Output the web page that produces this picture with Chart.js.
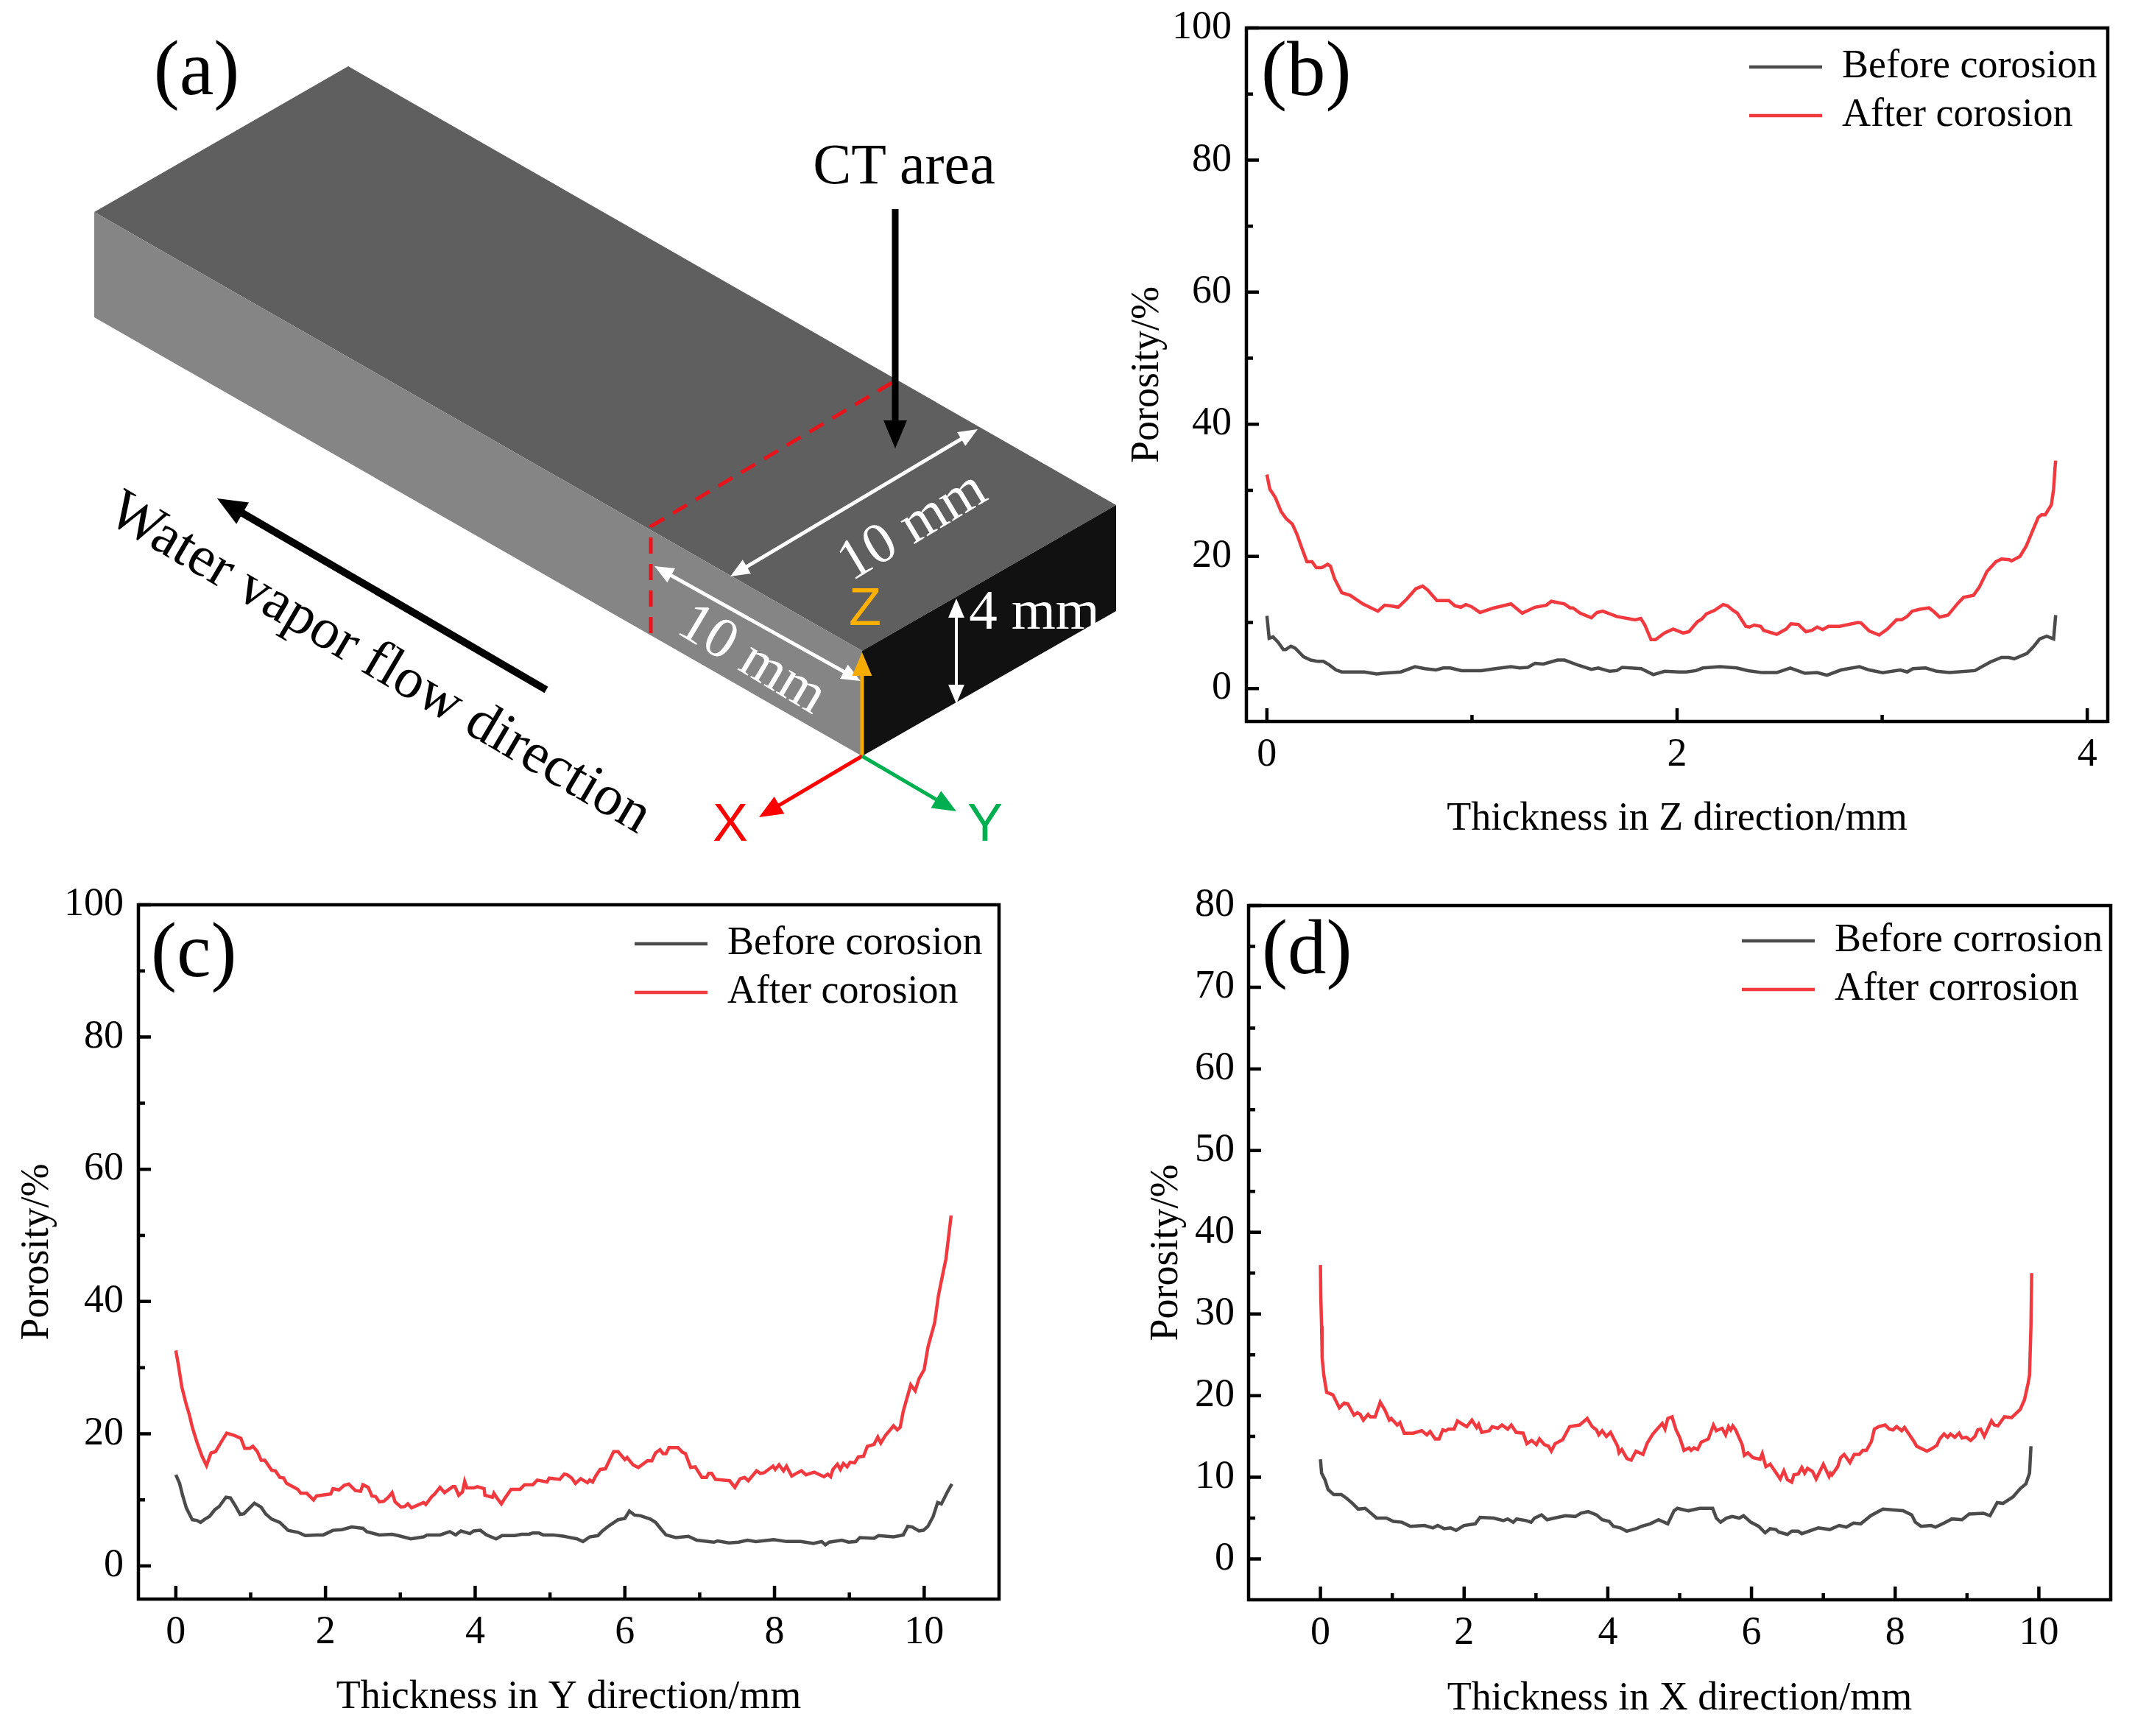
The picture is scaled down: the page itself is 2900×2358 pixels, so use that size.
<!DOCTYPE html>
<html>
<head>
<meta charset="utf-8">
<style>
html, body { margin: 0; padding: 0; background: #fff; width: 2900px; height: 2358px; overflow: hidden; }
canvas, svg { position: absolute; }
</style>
<script src="https://cdn.jsdelivr.net/npm/chart.js@4"></script>
</head>
<body>
<svg id="sketch" width="2900" height="1190" style="left:0;top:0"></svg>
<canvas id="chartZ" width="1374" height="1145" style="left:1526px;top:0"></canvas>
<canvas id="chartY" width="1382" height="1148" style="left:18px;top:1190px"></canvas>
<canvas id="chartX" width="1348" height="1150" style="left:1552px;top:1190px"></canvas>
<script>
// [thickness mm, porosity %]
const zBefore = [[0,11],[0.011,7.6],[0.03,7.8],[0.055,7],[0.08,5.9],[0.092,5.9],[0.117,6.4],[0.138,6.1],[0.179,4.8],[0.213,4.3],[0.248,4.1],[0.275,4.1],[0.303,3.6],[0.337,2.8],[0.365,2.5],[0.475,2.5],[0.536,2.2],[0.564,2.3],[0.653,2.5],[0.722,3.3],[0.77,3],[0.825,2.8],[0.86,3.1],[0.894,3.1],[0.949,2.7],[1.045,2.7],[1.114,3],[1.19,3.3],[1.231,3.1],[1.272,3.2],[1.307,3.8],[1.348,3.7],[1.417,4.3],[1.451,4.3],[1.52,3.5],[1.582,2.9],[1.616,3.1],[1.671,2.6],[1.706,2.7],[1.733,3.2],[1.825,3],[1.884,2.1],[1.939,2.6],[2.01,2.5],[2.044,2.5],[2.092,2.7],[2.126,3.1],[2.209,3.3],[2.291,3.1],[2.346,2.7],[2.415,2.4],[2.486,2.4],[2.552,3.1],[2.624,2.3],[2.683,2.4],[2.731,2],[2.799,2.8],[2.889,3.3],[2.937,2.8],[3.003,2.4],[3.088,2.8],[3.122,2.5],[3.15,3],[3.212,3.1],[3.266,2.6],[3.328,2.4],[3.452,2.7],[3.527,4],[3.582,4.7],[3.617,4.7],[3.644,4.5],[3.706,5.3],[3.74,6.4],[3.768,7.5],[3.802,7.9],[3.836,7.5],[3.846,11.1]];
const zAfter = [[0,32.4],[0.014,30.2],[0.041,28.9],[0.069,26.8],[0.094,25.7],[0.124,24.9],[0.147,23.3],[0.172,21.1],[0.195,19.2],[0.22,19.2],[0.241,18.3],[0.268,18.3],[0.296,18.8],[0.31,18.5],[0.33,16.6],[0.365,14.5],[0.406,14.1],[0.468,12.8],[0.541,11.7],[0.574,12.6],[0.605,12.5],[0.64,12.3],[0.681,13.5],[0.726,15.1],[0.759,15.5],[0.784,14.9],[0.829,13.3],[0.887,13.3],[0.917,12.5],[0.946,12.3],[0.97,12.7],[0.997,12.4],[1.039,11.5],[1.107,12.2],[1.19,12.8],[1.245,11.4],[1.307,12.3],[1.362,12.6],[1.387,13.2],[1.451,12.8],[1.479,12.2],[1.492,12.2],[1.527,11.4],[1.582,10.7],[1.609,11.5],[1.637,11.7],[1.706,10.9],[1.795,10.4],[1.823,10.6],[1.843,9.6],[1.873,7.4],[1.895,7.4],[1.939,8.4],[1.981,9],[2.03,8.4],[2.058,8.6],[2.099,10.1],[2.12,10.5],[2.143,11.3],[2.181,11.8],[2.225,12.7],[2.247,12.5],[2.27,11.9],[2.294,11.4],[2.335,9.4],[2.353,9.3],[2.376,9.6],[2.408,9.4],[2.422,8.8],[2.486,8.2],[2.532,9],[2.555,9.8],[2.591,9.7],[2.628,8.6],[2.658,8.8],[2.683,9.3],[2.71,8.9],[2.738,9.4],[2.793,9.4],[2.882,10],[2.898,9.9],[2.937,8.7],[2.985,8.1],[3.026,9],[3.07,10.4],[3.095,10.4],[3.122,10.9],[3.146,11.7],[3.184,12],[3.228,12.2],[3.253,11.6],[3.28,10.8],[3.321,11.1],[3.369,12.9],[3.397,13.8],[3.445,14.1],[3.473,15.3],[3.511,17.7],[3.555,19.2],[3.582,19.6],[3.62,19.5],[3.63,19.3],[3.672,20],[3.703,21.6],[3.734,23.9],[3.761,25.9],[3.777,26.3],[3.795,26.3],[3.825,27.8],[3.836,30.2],[3.843,33.5],[3.846,34.5]];

const yBefore = [[0,13.8],[0.05,12.5],[0.09,10.7],[0.14,8.8],[0.18,7.9],[0.22,7],[0.28,6.9],[0.33,6.6],[0.39,7.1],[0.45,7.5],[0.52,8.5],[0.58,9],[0.67,10.4],[0.73,10.3],[0.79,9.2],[0.86,7.8],[0.91,7.9],[0.97,8.6],[1.05,9.5],[1.14,8.9],[1.2,7.9],[1.28,7.1],[1.39,6.6],[1.5,5.4],[1.63,5.1],[1.73,4.6],[1.88,4.7],[1.97,4.7],[2.1,5.4],[2.22,5.5],[2.35,5.9],[2.5,5.7],[2.55,5.2],[2.72,4.7],[2.89,4.8],[2.97,4.6],[3.14,4.1],[3.31,4.4],[3.36,4.7],[3.53,4.7],[3.66,5.2],[3.74,4.7],[3.81,5.3],[3.93,4.9],[3.98,5.3],[4.07,5.4],[4.15,4.7],[4.28,4.1],[4.36,4.6],[4.53,4.6],[4.62,4.8],[4.72,4.8],[4.77,5],[4.85,5],[4.91,4.7],[5.04,4.7],[5.19,4.5],[5.23,4.4],[5.36,4.1],[5.44,3.7],[5.53,4.4],[5.64,4.6],[5.7,5.3],[5.79,6.1],[5.91,7],[6,7.2],[6.06,8.3],[6.13,7.7],[6.21,7.6],[6.34,7.1],[6.41,6.6],[6.49,5.5],[6.55,4.7],[6.68,4.3],[6.85,4.5],[6.96,3.9],[7.19,3.6],[7.24,3.8],[7.39,3.5],[7.52,3.6],[7.64,3.9],[7.75,3.7],[7.99,4],[8.16,3.7],[8.35,3.7],[8.52,3.4],[8.63,3.7],[8.68,3.2],[8.73,3.6],[8.9,3.9],[8.99,3.6],[9.09,3.7],[9.14,4.3],[9.33,4.2],[9.39,4.6],[9.59,4.4],[9.72,4.7],[9.78,6],[9.84,5.9],[9.93,5.3],[9.99,5.4],[10.05,6],[10.12,7.5],[10.18,9.6],[10.23,9.4],[10.31,11.2],[10.37,12.4]];
const yAfter = [[0,32.6],[0.03,30.7],[0.08,27.1],[0.14,24.4],[0.18,22.9],[0.22,21],[0.28,18.8],[0.35,16.6],[0.41,15.2],[0.47,17.1],[0.53,17.3],[0.62,19],[0.68,20.1],[0.77,19.8],[0.87,19.3],[0.92,17.8],[0.99,17.8],[1.03,18.1],[1.09,17.3],[1.14,16],[1.19,16],[1.28,14.5],[1.33,14.4],[1.39,13.4],[1.44,13.3],[1.48,12.5],[1.63,11.6],[1.67,11],[1.75,11],[1.84,10],[1.88,10.6],[2.07,10.9],[2.1,11.7],[2.18,11.5],[2.25,12.2],[2.31,12.4],[2.4,11.4],[2.47,11.3],[2.5,12.3],[2.57,11.9],[2.62,10.6],[2.67,10.5],[2.72,9.7],[2.78,9.8],[2.84,10.4],[2.89,11.1],[2.93,9.7],[3.01,8.9],[3.06,9],[3.1,9.4],[3.15,8.8],[3.31,9.6],[3.34,9.3],[3.42,10.5],[3.46,10.9],[3.53,11.9],[3.59,11.1],[3.7,12],[3.73,12],[3.78,10.7],[3.83,11.2],[3.86,12.8],[3.89,11.8],[3.98,11.8],[4.03,12],[4.12,11.7],[4.13,10.7],[4.23,10.4],[4.25,11],[4.29,10.3],[4.35,9.4],[4.4,10.3],[4.48,11.6],[4.6,11.6],[4.66,12.3],[4.77,12.3],[4.83,13],[4.96,12.7],[4.99,13.3],[5.13,13.1],[5.19,13.9],[5.23,13.8],[5.29,13.3],[5.34,12.5],[5.41,13.2],[5.5,12.6],[5.53,13],[5.57,12.7],[5.61,13.6],[5.67,14.6],[5.74,14.7],[5.85,17.3],[5.91,17.3],[6,16.1],[6.03,16.4],[6.11,15.3],[6.18,14.9],[6.3,15.9],[6.36,15.9],[6.41,17.1],[6.47,17.6],[6.51,17],[6.55,17],[6.59,17.9],[6.71,17.9],[6.77,17.2],[6.81,17],[6.88,14.9],[6.94,15],[7.03,13.4],[7.09,13.4],[7.12,14],[7.16,14],[7.21,13.1],[7.4,12.9],[7.47,11.9],[7.54,13.2],[7.6,13.4],[7.65,12.9],[7.76,14.4],[7.81,14],[7.86,14.1],[7.98,15.1],[8.01,14.6],[8.06,15.3],[8.12,14.4],[8.16,15.1],[8.23,13.6],[8.29,14],[8.36,14.4],[8.42,13.8],[8.53,14.2],[8.66,13.5],[8.71,13.9],[8.75,13.5],[8.78,14.6],[8.84,15.4],[8.88,14.6],[8.92,15.5],[8.97,15],[9.01,15.7],[9.07,15.6],[9.12,16.5],[9.19,16.6],[9.24,18.1],[9.33,18.4],[9.38,19.5],[9.42,18.6],[9.48,19.7],[9.59,21.2],[9.64,20.6],[9.68,21],[9.72,23.4],[9.82,27.4],[9.88,26.5],[9.93,28.3],[10,29.7],[10.05,33.1],[10.14,36.8],[10.19,40.9],[10.26,44.8],[10.29,46.4],[10.36,53]];

const xBefore = [[0,12.2],[0.016,10.5],[0.063,9.7],[0.106,8.5],[0.184,7.9],[0.29,7.9],[0.369,7.4],[0.447,6.8],[0.526,6.1],[0.624,6.2],[0.703,5.6],[0.781,5],[0.918,5],[1.016,4.6],[1.134,4.5],[1.252,4],[1.448,4.1],[1.566,3.8],[1.633,4.1],[1.723,3.7],[1.813,3.8],[1.888,3.5],[1.998,4.1],[2.155,4.3],[2.221,5.1],[2.41,5],[2.547,4.7],[2.606,4.9],[2.684,4.5],[2.731,4.9],[2.861,4.7],[2.932,4.5],[2.979,5],[3.077,5.4],[3.155,4.8],[3.254,5],[3.41,5.3],[3.548,5.2],[3.626,5.6],[3.725,5.8],[3.842,5.4],[3.921,4.8],[4.019,4.6],[4.078,4],[4.176,3.8],[4.262,3.4],[4.392,3.7],[4.47,4],[4.588,4.3],[4.706,4.8],[4.835,4.3],[4.922,5.9],[4.969,6.2],[5.12,5.9],[5.28,6.2],[5.46,6.2],[5.51,5],[5.57,4.5],[5.65,5],[5.73,5.2],[5.83,5],[5.89,5.3],[5.99,4.5],[6.1,4],[6.19,3.2],[6.26,3.7],[6.34,3.6],[6.38,3.3],[6.5,3],[6.56,3.4],[6.65,3.4],[6.7,3.1],[6.93,3.8],[7.09,3.6],[7.22,4.1],[7.32,3.9],[7.42,4.4],[7.52,4.3],[7.66,5.3],[7.83,6.1],[8.11,5.9],[8.23,5.4],[8.28,4.5],[8.36,4],[8.5,4.1],[8.56,3.9],[8.68,4.4],[8.79,4.9],[8.93,4.8],[9.03,5.5],[9.23,5.6],[9.32,5.3],[9.42,6.9],[9.5,6.8],[9.64,7.6],[9.74,8.6],[9.82,9.2],[9.87,10.5],[9.89,13.8]];
const xAfter = [[0,36],[0.005,32],[0.016,28.5],[0.024,24.6],[0.047,22.5],[0.086,20.4],[0.173,20.1],[0.263,18.5],[0.33,19.1],[0.38,19],[0.467,17.6],[0.514,17.9],[0.553,17.7],[0.597,17],[0.663,17.7],[0.695,17.4],[0.761,17.4],[0.832,19.2],[0.899,18.2],[0.958,17],[0.985,17.2],[1.068,16.4],[1.107,16.7],[1.166,15.4],[1.291,15.4],[1.409,15.7],[1.48,15.2],[1.527,15.6],[1.597,14.7],[1.652,14.7],[1.703,15.8],[1.743,15.7],[1.782,15.9],[1.86,15.9],[1.907,16.9],[1.978,16.5],[2.037,16.2],[2.108,17],[2.174,16.1],[2.202,16.5],[2.245,15.5],[2.351,15.7],[2.39,16.2],[2.469,16],[2.527,16.4],[2.606,15.9],[2.657,16.4],[2.724,15.5],[2.822,15.4],[2.873,14.1],[2.94,14.5],[3.006,14],[3.049,14.7],[3.116,14],[3.175,13.8],[3.214,13.2],[3.265,14.1],[3.371,14.6],[3.469,16.2],[3.607,16.4],[3.713,17.2],[3.783,16.2],[3.842,15.8],[3.874,15.2],[3.921,15.7],[3.98,15],[4.038,15.5],[4.137,13.8],[4.156,13],[4.195,13.4],[4.266,12.3],[4.325,12.1],[4.392,13.2],[4.49,12.8],[4.549,14.2],[4.627,15.3],[4.706,16.1],[4.757,16.6],[4.796,15.9],[4.835,17.2],[4.894,17.4],[4.95,15.8],[5,14.9],[5.06,13.3],[5.13,13.6],[5.16,13.3],[5.2,13.6],[5.25,13.4],[5.3,14.3],[5.4,14.7],[5.47,16.4],[5.51,15.7],[5.59,16],[5.64,15.2],[5.68,16.2],[5.71,15.8],[5.74,16.3],[5.78,15.8],[5.87,14],[5.9,12.7],[5.95,13],[6.02,12.4],[6.12,12.2],[6.15,12.9],[6.2,11.3],[6.26,11.6],[6.4,9.8],[6.45,10.8],[6.5,9.7],[6.56,9.4],[6.59,10.3],[6.65,10.4],[6.7,11.2],[6.74,10.5],[6.78,11.1],[6.85,10.7],[6.9,9.8],[7,11.6],[7.08,10.1],[7.1,10.5],[7.12,10.3],[7.2,11.3],[7.24,12.4],[7.29,12.8],[7.37,11.8],[7.43,12.8],[7.5,12.8],[7.55,13.3],[7.6,13.3],[7.67,14.4],[7.71,15.9],[7.77,16.2],[7.86,16.4],[7.92,15.9],[7.97,15.8],[8.02,16.2],[8.09,15.7],[8.13,16.1],[8.26,14.4],[8.3,13.8],[8.44,13.2],[8.49,13.4],[8.58,13.9],[8.62,14.7],[8.68,15.3],[8.73,14.9],[8.77,15.3],[8.83,14.9],[8.89,15.4],[8.93,14.8],[8.99,14.9],[9.05,14.5],[9.11,15],[9.15,15.8],[9.19,15.9],[9.24,15],[9.34,16.9],[9.38,16.4],[9.43,16.3],[9.52,17.4],[9.62,17.3],[9.74,18.3],[9.8,19.5],[9.85,21.5],[9.87,22.5],[9.88,25.5],[9.89,28.5],[9.9,35]];

const zMajorX = [0, 2, 4];
const zMinorX = [1, 3];
const wideMajorX = [0, 2, 4, 6, 8, 10];
const wideMinorX = [1, 3, 5, 7, 9];
const pctMajorY = [0, 20, 40, 60, 80, 100];
const pctMinorY = [10, 30, 50, 70, 90];
const xPanelMajorY = [0, 10, 20, 30, 40, 50, 60, 70, 80];
const xPanelMinorY = [5, 15, 25, 35, 45, 55, 65, 75];

const BLACK = '#000';
const GRAY = '#4b4b4b';
const RED = '#f13a3f';

Chart.defaults.font.family = '"Liberation Serif"';
Chart.defaults.font.size = 54;
Chart.defaults.color = BLACK;

// inward ticks, the frame and the (b) style letter
const frame = {
  id: 'frame',
  afterDatasetsDraw(chart, args, opts) {
    const { ctx, chartArea: a, scales } = chart;
    ctx.save();
    ctx.strokeStyle = BLACK;
    ctx.lineWidth = 4.5;
    ctx.beginPath();
    scales.x.ticks.forEach(t => {
      const px = scales.x.getPixelForValue(t.value);
      ctx.moveTo(px, a.bottom);
      ctx.lineTo(px, a.bottom - (t.label ? 18 : 9));
    });
    scales.y.ticks.forEach(t => {
      const py = scales.y.getPixelForValue(t.value);
      ctx.moveTo(a.left, py);
      ctx.lineTo(a.left + (t.label ? 17 : 9), py);
    });
    ctx.stroke();
    ctx.strokeRect(a.left, a.top, a.right - a.left, a.bottom - a.top);
    ctx.fillStyle = BLACK;
    ctx.font = '105px "Liberation Serif"';
    ctx.textBaseline = 'middle';
    ctx.fillText(opts.letter, a.left + opts.letterDx, a.top + opts.letterDy);
    ctx.restore();
  }
};

// the legend sits inside the plot, moved to where the reference has it
const legendSpot = {
  id: 'legendSpot',
  afterLayout(chart, args, opts) {
    const l = chart.legend, pad = l.options.labels.padding;
    l.left = opts.x - pad;
    l.top = opts.y - pad - l.options.labels.font.size / 2;
    l.right = chart.width;
    l.bottom = chart.height;
  }
};

function axis(major, minor, min, max, title, tickPad, fixKey, fixVal) {
  return {
    type: 'linear', min, max,
    afterBuildTicks(s) {
      s.ticks = major.concat(minor).sort((a, b) => a - b).map(value => ({ value }));
    },
    afterFit(s) {
      s[fixKey] = fixVal;
      // tick overhang would otherwise push the plot area in
      s.paddingTop = s.paddingBottom = s.paddingLeft = s.paddingRight = 0;
    },
    grid: { display: false, drawTicks: false },
    border: { display: false },
    ticks: {
      autoSkip: false, maxRotation: 0, padding: tickPad, color: BLACK,
      callback: v => major.includes(v) ? String(v) : ''
    },
    title: { display: true, text: title, color: BLACK, padding: 0, font: { size: 54 } }
  };
}

function panel(id, cfg) {
  new Chart(document.getElementById(id), {
    type: 'line',
    data: {
      datasets: [
        { label: cfg.names[0], data: cfg.before.map(p => ({ x: p[0], y: p[1] })), borderColor: GRAY, backgroundColor: GRAY },
        { label: cfg.names[1], data: cfg.after.map(p => ({ x: p[0], y: p[1] })), borderColor: RED, backgroundColor: RED }
      ]
    },
    options: {
      responsive: false, animation: false, devicePixelRatio: 1,
      layout: { autoPadding: false, padding: { top: cfg.top, right: cfg.right, left: 0, bottom: 0 } },
      elements: { point: { radius: 0 }, line: { borderWidth: 4.5, tension: 0 } },
      scales: {
        x: axis(cfg.xMajor, cfg.xMinor, cfg.xMin, cfg.xMax, cfg.xTitle, 13, 'height', cfg.xH),
        y: axis(cfg.yMajor, cfg.yMinor, -5, cfg.yMax, 'Porosity/%', cfg.yPad, 'width', cfg.yW)
      },
      plugins: {
        tooltip: { enabled: false },
        legend: {
          position: 'chartArea', align: 'start',
          labels: { boxWidth: 99, boxHeight: 0, padding: cfg.legendGap, color: BLACK, font: { size: 54 } }
        },
        legendSpot: { x: cfg.legendX, y: cfg.legendY },
        frame: { letter: cfg.letter, letterDx: cfg.letterDx, letterDy: cfg.letterDy }
      }
    },
    plugins: [frame, legendSpot]
  });
}

panel('chartZ', {
  before: zBefore, after: zAfter, names: ['Before corosion', 'After corosion'],
  xMajor: zMajorX, xMinor: zMinorX, xMin: -0.1, xMax: 4.1, xTitle: 'Thickness in Z direction/mm',
  yMajor: pctMajorY, yMinor: pctMinorY, yMax: 100,
  top: 38, right: 37, xH: 165, yW: 167, yPad: 20,
  legendX: 850, legendY: 91, legendGap: 12,
  letter: '(b)', letterDx: 20, letterDy: 63
});
panel('chartY', {
  before: yBefore, after: yAfter, names: ['Before corosion', 'After corosion'],
  xMajor: wideMajorX, xMinor: wideMinorX, xMin: -0.5, xMax: 11, xTitle: 'Thickness in Y direction/mm',
  yMajor: pctMajorY, yMinor: pctMinorY, yMax: 100,
  top: 39, right: 43, xH: 166, yW: 170, yPad: 20,
  legendX: 844, legendY: 92, legendGap: 12,
  letter: '(c)', letterDx: 17, letterDy: 69
});
panel('chartX', {
  before: xBefore, after: xAfter, names: ['Before corrosion', 'After corrosion'],
  xMajor: wideMajorX, xMinor: wideMinorX, xMin: -1, xMax: 11, xTitle: 'Thickness in X direction/mm',
  yMajor: xPanelMajorY, yMinor: xPanelMinorY, yMax: 80,
  top: 40, right: 33, xH: 167, yW: 144, yPad: 19,
  legendX: 814, legendY: 88, legendGap: 12,
  letter: '(d)', letterDx: 18, letterDy: 64
});

// panel (a): the sample sketch, not a data chart
const svgParts = [];
function poly(points, fill) { svgParts.push(`<polygon points="${points}" fill="${fill}"/>`); }
function arrow(x1, y1, x2, y2, color, w, head, both) {
  const a = Math.atan2(y2 - y1, x2 - x1), c = Math.cos(a), s = Math.sin(a);
  const tip = (x, y, dirC, dirS) => poly(
    `${x},${y} ${x - dirC * head - dirS * head * 0.42},${y - dirS * head + dirC * head * 0.42} ${x - dirC * head + dirS * head * 0.42},${y - dirS * head - dirC * head * 0.42}`, color);
  svgParts.push(`<line x1="${both ? x1 + c * head * 0.8 : x1}" y1="${both ? y1 + s * head * 0.8 : y1}" x2="${x2 - c * head * 0.8}" y2="${y2 - s * head * 0.8}" stroke="${color}" stroke-width="${w}"/>`);
  tip(x2, y2, c, s);
  if (both) tip(x1, y1, -c, -s);
}
function label(text, x, y, size, color, rotate, family) {
  const rot = rotate ? ` transform="rotate(${rotate} ${x} ${y})"` : '';
  svgParts.push(`<text x="${x}" y="${y}" font-size="${size}" fill="${color}" font-family="${family || 'Liberation Serif'}" text-anchor="middle" dominant-baseline="central"${rot}>${text}</text>`);
}
poly('473,90 128,288 1171,884 1516,686', '#5f5f5f');
poly('128,288 1171,884 1171,1027 128,431', '#858585');
poly('1171,884 1516,686 1516,830 1171,1027', '#111111');
svgParts.push('<polyline points="884,860 884,715 1213,519" fill="none" stroke="#e8141c" stroke-width="5" stroke-dasharray="22 14"/>');
label('(a)', 267, 92, 105, BLACK);
label('CT area', 1228, 222, 78, BLACK);
arrow(1216, 284, 1216, 609, BLACK, 9, 38);
arrow(742, 937, 295, 677, BLACK, 10, 40);
label('Water vapor flow direction', 518, 897, 78, BLACK, 30.5);
arrow(992, 783, 1328, 583, '#fff', 5, 26, true);
label('10 mm', 1237, 711, 78, '#fff', -31);
arrow(889, 769, 1169, 925, '#fff', 5, 26, true);
label('10 mm', 1024, 892, 78, '#fff', 31);
arrow(1299, 813, 1299, 956, '#fff', 4, 26, true);
label('4 mm', 1405, 828, 77, '#fff');
arrow(1171, 1027, 1171, 886, '#f5ab00', 5, 32);
arrow(1171, 1027, 1031, 1110, '#ff0000', 5, 32);
arrow(1171, 1027, 1299, 1102, '#00b050', 5, 32);
label('Z', 1175, 824, 72, '#ffb000', 0, 'Liberation Sans Narrow, Liberation Sans');
label('X', 992, 1117, 72, '#ff0000', 0, 'Liberation Sans Narrow, Liberation Sans');
label('Y', 1338, 1117, 72, '#00b050', 0, 'Liberation Sans Narrow, Liberation Sans');
document.getElementById('sketch').innerHTML = svgParts.join('');
</script>
</body>
</html>
